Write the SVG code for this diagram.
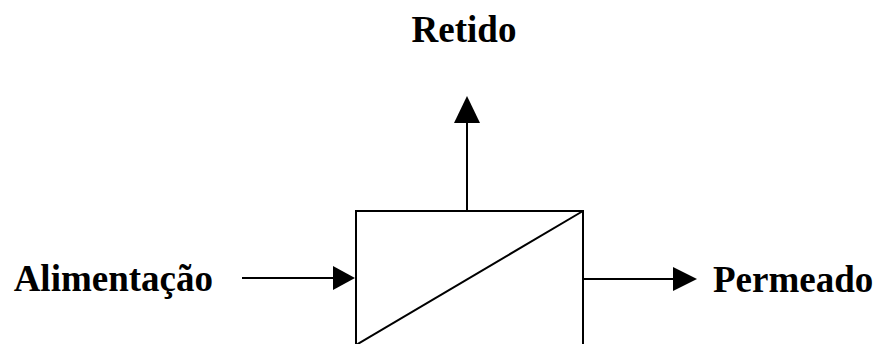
<svg xmlns="http://www.w3.org/2000/svg" width="877" height="344" viewBox="0 0 877 344">
  <style>
    .lbl { font-family: "Liberation Serif", "Times New Roman", serif; font-weight: bold; font-size: 37px; fill: #000; }
    .ln { stroke: #000; stroke-width: 2; fill: none; }
    .head { fill: #000; stroke: none; }
  </style>
  <rect width="877" height="344" fill="#fff"/>
  <g id="membrane">
    <rect class="ln" x="356" y="211" width="227" height="136"/>
    <line class="ln" x1="583" y1="211" x2="356" y2="345"/>
  </g>
  <g id="label-retido">
    <text class="lbl" x="464" y="42" text-anchor="middle">Retido</text>
  </g>
  <g id="label-alimentacao">
    <text class="lbl" x="213" y="291" text-anchor="end">Alimentação</text>
  </g>
  <g id="label-permeado">
    <text class="lbl" x="713" y="292">Permeado</text>
  </g>
  <g id="connectors">
    <line class="ln" x1="467" y1="211" x2="467" y2="120"/>
    <polygon class="head" points="467,96 480,123 454,123"/>
    <line class="ln" x1="242" y1="278" x2="336" y2="278"/>
    <polygon class="head" points="355,278 333,266 333,290"/>
    <line class="ln" x1="583" y1="279" x2="676" y2="279"/>
    <polygon class="head" points="697,279 673,267 673,291"/>
  </g>
</svg>
